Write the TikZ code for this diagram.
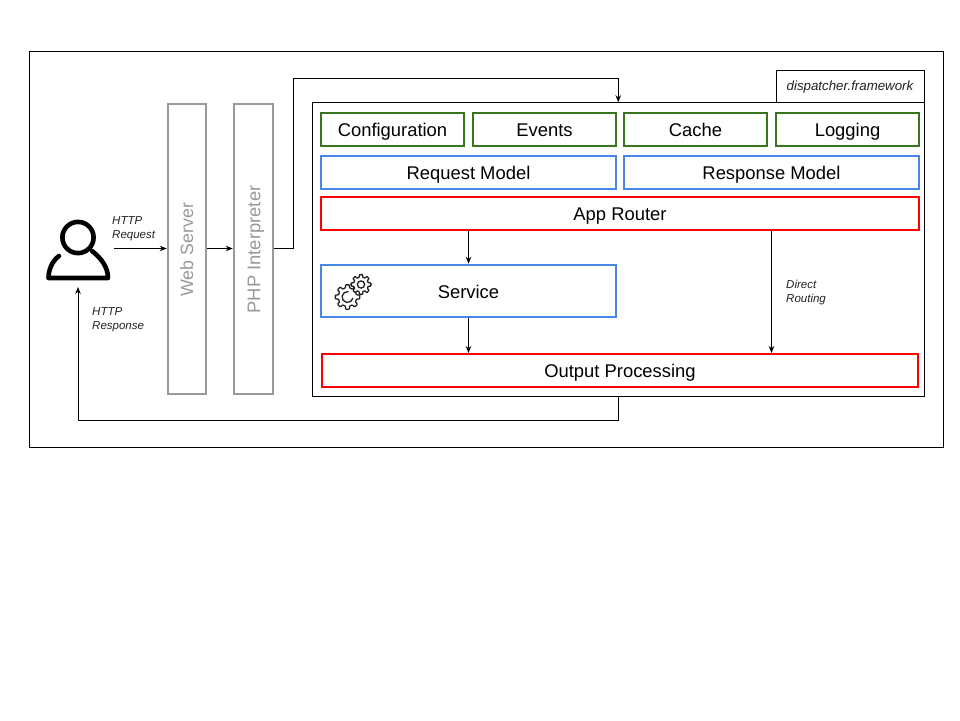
\documentclass[tikz,border=0pt]{standalone}
\usepackage{fontspec}
\setmainfont{Liberation Sans}
\usetikzlibrary{arrows.meta,calc}
\definecolor{fwgreen}{HTML}{38761D}
\definecolor{fwblue}{HTML}{4A86E8}
\definecolor{fwred}{HTML}{FF0000}
\definecolor{fwgray}{HTML}{999999}
\definecolor{fwdark}{HTML}{222222}
\tikzset{
  box/.style={draw,line width=#1,inner sep=0pt,text height=17pt,text depth=3pt,font=\fontsize{18.4}{22}\selectfont,text=black},
  greenbox/.style={box=2pt,draw=fwgreen,minimum width=143pt,minimum height=33pt},
  bluebox/.style={box=2pt,draw=fwblue,minimum width=295.5pt,minimum height=33pt},
  redbox/.style={box=2pt,draw=fwred,minimum height=33pt},
  grayblock/.style={draw=fwgray,line width=2pt,inner sep=0pt,minimum height=290pt,text=fwgray},
  frame/.style={draw=black,line width=1pt,inner sep=0pt},
  conn/.style={draw=black,line width=1pt,-{Stealth[length=7pt,width=5.5pt]}},
  plainlabel/.style={inner sep=0pt,align=left,anchor=north west,font=\itshape\fontsize{11.5}{14}\selectfont,text=fwdark},
}
\newcommand{\gearshape}[5]{% cx cy outer inner teeth
  \pgfmathsetmacro{\stepang}{360/#5}
  \draw[line width=1.3pt,rounded corners=0.6pt,draw=fwdark,fill=white]
    \foreach \k in {1,...,#5}{
      \ifnum\k=1 ($(#1,#2)+({(\k-1)*\stepang-\stepang*0.2}:#3)$) \else -- ($(#1,#2)+({(\k-1)*\stepang-\stepang*0.2}:#3)$) \fi
      -- ($(#1,#2)+({(\k-1)*\stepang+\stepang*0.2}:#3)$)
      -- ($(#1,#2)+({(\k-1)*\stepang+\stepang*0.3}:#4)$)
      -- ($(#1,#2)+({(\k-1)*\stepang+\stepang*0.7}:#4)$)
    } -- cycle;
}
\begin{document}
\begin{tikzpicture}[x=1pt,y=-1pt]
\useasboundingbox (0,0) rectangle (960,720);
\fill[white] (0,0) rectangle (960,720);

\node[frame,minimum width=913.5pt,minimum height=395.5pt] (outer) at (486.25,249.5) {};
\node[frame,minimum width=148pt,minimum height=33pt,text height=11pt,text depth=3pt,font=\itshape\fontsize{13.3}{15}\selectfont,text=fwdark] (tag) at (850,86.5) {dispatcher.framework};
\node[frame,minimum width=611.5pt,minimum height=293.5pt,fill=white] (fw) at (618.25,249.5) {};

\node[greenbox] (config) at (392.5,129.5) {Configuration};
\node[greenbox] (events) at (544.5,129.5) {Events};
\node[greenbox] (cache) at (695.5,129.5) {Cache};
\node[greenbox] (logging) at (847.5,129.5) {Logging};
\node[bluebox] (request) at (468.5,172.5) {Request Model};
\node[bluebox] (response) at (771.5,172.5) {Response Model};
\node[redbox,minimum width=598.5pt] (router) at (620,213.5) {App Router};
\node[box=2pt,draw=fwblue,minimum width=295.5pt,minimum height=52.5pt] (service) at (468.5,291) {Service};
\node[redbox,minimum width=596.5pt] (output) at (620,370.5) {Output Processing};

\node[grayblock,minimum width=38.5pt,font=\fontsize{17.8}{20}\selectfont] (web) at (187,248.5) {\rotatebox{90}{\rule[-3.5pt]{0pt}{19pt}Web Server\hspace{2.5pt}}};
\node[grayblock,minimum width=39.5pt,font=\fontsize{18.4}{20}\selectfont] (php) at (253.5,248.5) {\rotatebox{90}{\rule[-3.5pt]{0pt}{21pt}PHP Interpreter\hspace{2pt}}};

% user icon
\coordinate (userfoot) at (78,287);
\coordinate (userright) at (114,248.5);
\draw[line width=4.6pt,black] (78,237.5) circle (15.6);
\draw[line width=4.6pt,black,line cap=round,line join=round]
  (59,256) .. controls (52,261) and (48.5,270) .. (48.5,278) -- (108,278)
  .. controls (108,267) and (101,258) .. (92,251);

% gears
\gearshape{347.5}{297}{12.3}{9.3}{8}
\draw[line width=1.3pt,fwdark] (348.5,291.6) arc (-80:-350:5.5);
\gearshape{361}{284.5}{10}{7.4}{8}
\draw[line width=1.3pt,fwdark] (361,284.5) circle (3.6);

% labels
\node[plainlabel] (lreq) at (112,216) {HTTP\\Request};
\node[plainlabel] (lresp) at (92,307) {HTTP\\Response};
\node[plainlabel] (ldirect) at (786,280) {Direct\\Routing};

% connectors
\draw[conn] (userright) -- (web.west);
\draw[conn] (web.east) -- (php.west);
\coordinate (up1) at ($(php.east)+(19,0)$);
\coordinate (up2) at (fw.north |- 0,78);
\draw[conn] (php.east) -- (up1) -- (up1 |- up2) -- (up2) -- (fw.north);
\draw[conn] (router.south -| service.north) -- (service.north);
\draw[conn] (service.south) -- (output.north -| service.south);
\draw[conn] (router.south -| response.south) -- (output.north -| response.south);
\coordinate (dn) at ($(fw.south)+(0,24)$);
\draw[conn] (fw.south) -- (dn) -- (dn -| userfoot) -- (userfoot);
\end{tikzpicture}
\end{document}
